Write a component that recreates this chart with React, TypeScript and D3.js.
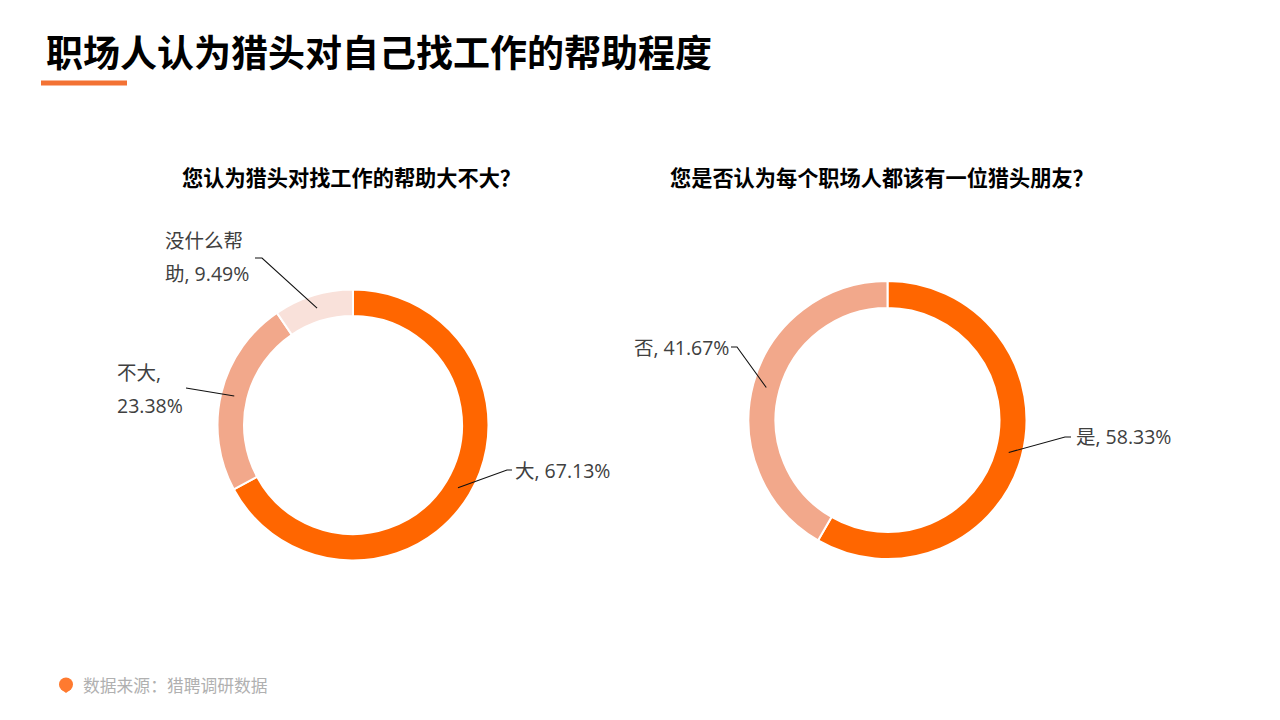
import * as d3 from "d3";
import React from "react";

const title = "职场人认为猎头对自己找工作的帮助程度";
const source = "数据来源：猎聘调研数据";

const leftTitle = "您认为猎头对找工作的帮助大不大？";
const leftCategories = ["大", "不大", "没什么帮助"];
const leftValues = [67.13, 23.38, 9.49];

const rightTitle = "您是否认为每个职场人都该有一位猎头朋友？";
const rightCategories = ["是", "否"];
const rightValues = [58.33, 41.67];

const colors = ["#ff6600", "#f2a88b", "#f9e1da"];
const font = "'Open Sans','Noto Sans CJK SC',sans-serif";
const cjk = "'Noto Sans CJK SC',sans-serif";

type LabelPlace = { lines: string[]; x: number; y: number; elbow: [number, number]; end: [number, number] };

function Donut({
  cx,
  cy,
  outer,
  inner,
  categories,
  values,
  places,
}: {
  cx: number;
  cy: number;
  outer: number;
  inner: number;
  categories: string[];
  values: number[];
  places: LabelPlace[];
}) {
  const pie = d3.pie<number>().sort(null)(values);
  const arc = d3.arc<d3.PieArcDatum<number>>().innerRadius(inner).outerRadius(outer);
  const line = d3.line();
  return (
    <g>
      <g transform={`translate(${cx},${cy})`}>
        {pie.map((d, i) => (
          <path key={categories[i]} d={arc(d) ?? ""} fill={colors[i]} stroke="#fff" strokeWidth={2} />
        ))}
      </g>
      {pie.map((d, i) => {
        const [mx, my] = arc.centroid(d);
        const p = places[i];
        return (
          <g key={categories[i]}>
            <path
              d={line([[cx + mx, cy + my], p.elbow, p.end]) ?? ""}
              fill="none"
              stroke="#111"
              strokeWidth={1.1}
            />
            {p.lines.map((t, j) => (
              <text key={t} x={p.x} y={p.y + j * 33} fontSize={19.5} fontFamily={font} fill="#404040">
                {t}
              </text>
            ))}
          </g>
        );
      })}
    </g>
  );
}

export default function App() {
  return (
    <svg
      width={1280}
      height={720}
      viewBox="0 0 1280 720"
      style={{ position: "fixed", left: 0, top: 0, background: "#fff" }}
    >
      <text x={46} y={67} fontSize={37} fontWeight={700} fontFamily={cjk} fill="#000">
        {title}
      </text>
      <rect x={41} y={80.5} width={86} height={5} fill="#f37234" />

      <text x={182} y={186} fontSize={21.2} fontWeight={700} fontFamily={cjk} fill="#000">
        {leftTitle}
      </text>
      <text x={670} y={186} fontSize={21.2} fontWeight={700} fontFamily={cjk} fill="#000">
        {rightTitle}
      </text>

      <Donut
        cx={353}
        cy={425}
        outer={135.5}
        inner={109}
        categories={leftCategories}
        values={leftValues}
        places={[
          { lines: ["大, 67.13%"], x: 515, y: 478, elbow: [507, 470], end: [512, 470] },
          { lines: ["不大,", "23.38%"], x: 117, y: 380, elbow: [192, 389], end: [186, 388] },
          { lines: ["没什么帮", "助, 9.49%"], x: 165, y: 248, elbow: [262, 258], end: [255, 258] },
        ]}
      />
      <Donut
        cx={887.5}
        cy={420}
        outer={139}
        inner={112}
        categories={rightCategories}
        values={rightValues}
        places={[
          { lines: ["是, 58.33%"], x: 1076, y: 444, elbow: [1065, 437], end: [1071, 437] },
          { lines: ["否, 41.67%"], x: 634, y: 355, elbow: [737, 347], end: [731, 347] },
        ]}
      />

      <path
        d={d3.arc()({ innerRadius: 0, outerRadius: 7, startAngle: 0, endAngle: Math.PI * 2 }) ?? ""}
        transform="translate(66,684.5)"
        fill="#ff7a2f"
      />
      <path d={d3.line()([[62, 690], [70, 690], [66, 693]]) ?? ""} fill="#ff7a2f" />
      <text x={83} y={692} fontSize={16.8} fontFamily={cjk} fill="#b0b0b0">
        {source}
      </text>
    </svg>
  );
}
